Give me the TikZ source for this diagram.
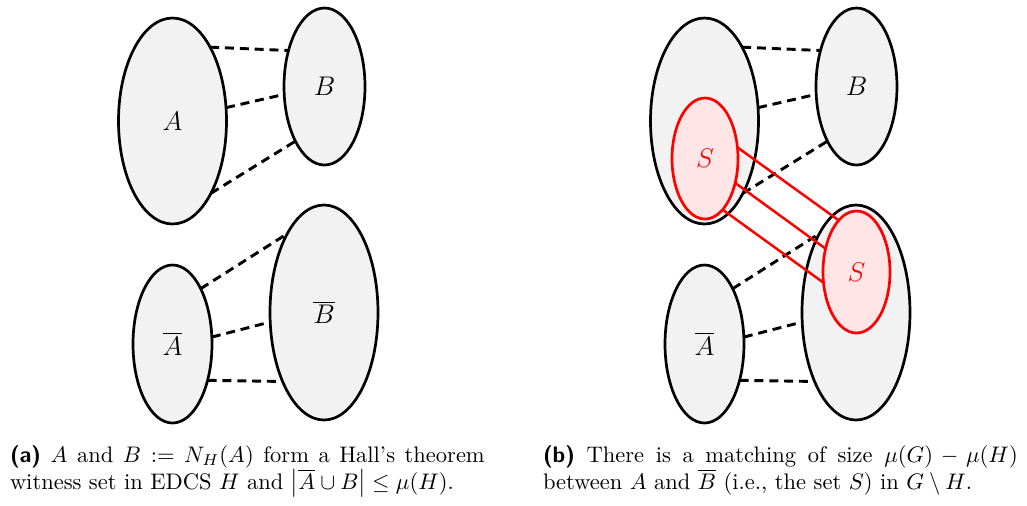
\documentclass[tikz,border=0pt]{standalone}
\usetikzlibrary{shapes.geometric}
\begin{document}
\begin{tikzpicture}[x=0.44444pt,y=-0.44444pt,
  setnode/.style args={#1/#2}{ellipse,draw=black,line width=1.2pt,fill=black!5,font=\large,
     minimum width=#1*0.44444pt,minimum height=#2*0.44444pt,inner sep=0pt,outer sep=0pt},
  snode/.style args={#1/#2}{ellipse,draw=red,line width=1.2pt,fill=red!10,text=red,font=\large,
     minimum width=#1*0.44444pt,minimum height=#2*0.44444pt,inner sep=0pt,outer sep=0pt},
  dline/.style={line width=1.3pt,dash pattern=on 4pt off 2.6pt},
  rline/.style={red,line width=1.1pt},
  captext/.style={anchor=base west,inner sep=0pt,outer sep=0pt}
]
\useasboundingbox (0,0) rectangle (1027,505);

% ---------- panel (a)
\node[setnode=108/206] (A) at (172.5,121) {$A$};
\node[setnode=81/157] (B) at (324.5,86.5) {$B$};
\node[setnode=79/158] (Ab) at (172.5,344) {$\overline{A}$};
\node[setnode=108/215] (Bb) at (324,312.5) {$\overline{B}$};
\draw[dline] (A.63.4) -- (B.135.7);
\draw[dline] (A.14.7) -- (B.191.9);
\draw[dline] (A.-62.2) -- (B.242.4);
\draw[dline] (Ab.63) -- (Bb.115.5);
\draw[dline] (Ab.10) -- (Bb.190);
\draw[dline] (Ab.-46) -- (Bb.239.9);

% ---------- panel (b)
\node[setnode=108/206] (A2) at (704.5,121) {};
\node[setnode=81/157] (B2) at (856.5,86.5) {$B$};
\node[setnode=79/158] (Ab2) at (704.5,344) {$\overline{A}$};
\node[setnode=108/215] (Bb2) at (856,312.5) {};
\draw[dline] (A2.63.4) -- (B2.135.7);
\draw[dline] (A2.14.7) -- (B2.191.9);
\draw[dline] (A2.-62.2) -- (B2.242.4);
\draw[dline] (Ab2.63) -- (Bb2.115.5);
\draw[dline] (Ab2.10) -- (Bb2.190);
\draw[dline] (Ab2.-46) -- (Bb2.239.9);
\node[snode=66/121] (S1) at (705,158.5) {$S$};
\node[snode=67/122] (S2) at (856.5,272) {$S$};
\draw[rline] (S1.19.2) -- (S2.109.2);
\draw[rline] (S1.-39.2) -- (S2.143.6);
\draw[rline] (S1.-71.1) -- (S2.198.2);

% ---------- captions
\node[captext] (capa) at (10,462) {\parbox[t]{211pt}{\hyphenpenalty=10000 \textsf{\textbf{(a)}} $A$ and $B := N_H(A)$ form a Hall's theorem witness set in EDCS $H$ and $\bigl|\overline{A}\cup B\bigr| \le \mu(H)$.}};
\node[captext] (capb) at (543,462) {\parbox[t]{211pt}{\hyphenpenalty=10000 \textsf{\textbf{(b)}} There is a matching of size $\mu(G)-\mu(H)$ between $A$ and $\overline{B}$ (i.e., the set $S$) in $G\setminus H$.}};
\end{tikzpicture}
\end{document}
